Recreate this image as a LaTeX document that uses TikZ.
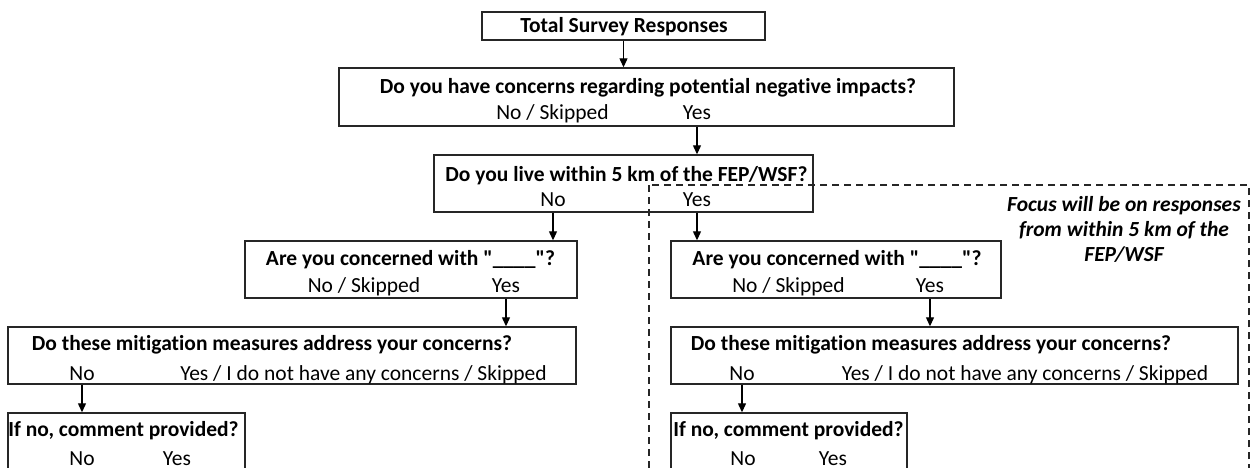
\documentclass[tikz,border=0pt]{standalone}
\usepackage{fontspec}
\setmainfont{Carlito}[Ligatures={NoCommon}]
\usepackage{tikz}
\usetikzlibrary{arrows.meta}

\begin{document}
\begin{tikzpicture}[x=1pt,y=-1pt,
  box/.style={draw=black!85,line width=1.4pt,inner sep=0pt},
  ques/.style={anchor=base,font=\fontsize{21.5}{25}\selectfont\bfseries,inner sep=0pt},
  ans/.style={anchor=base,font=\fontsize{21.5}{25}\selectfont,inner sep=0pt},
  flow/.style={line width=1.2pt,-{Triangle[length=9pt,width=8pt]}}]
\clip (0,0) rectangle (1256,468);
\fill[white] (0,0) rectangle (1256,468);
\node[box,minimum width=283pt,minimum height=28pt] (total) at (623.5,26) {};
\node[ques] (totaltxt) at (624,33) {Total Survey Responses};
\node[box,minimum width=615pt,minimum height=58pt] (concern) at (646.5,97) {};
\node[ques] (concernq) at (648,94) {Do you have concerns regarding potential negative impacts?};
\node[ans] (concernNo) at (552.5,120) {No / Skipped};
\node[ans] (concernYes) at (697,120) {Yes};
\node[box,minimum width=379pt,minimum height=57pt] (within) at (623.5,183.5) {};
\node[ques] (withinq) at (626.5,182) {Do you live within 5 km of the FEP/WSF?};
\node[ans] (withinNo) at (553,207) {No};
\node[ans] (withinYes) at (697,207) {Yes};
\draw[dashed,dash pattern=on 7pt off 5pt,line width=1.2pt,black!85] (649,185) rectangle (1249,490);
\node[font=\fontsize{21.5}{25}\selectfont\bfseries\itshape,align=center,anchor=north,inner sep=0pt] (focus) at (1124,196)
  {Focus will be on responses\\from within 5 km of the\\FEP/WSF};
\node[box,minimum width=332pt,minimum height=57pt] (askL) at (411,269.5) {};
\node[ques] (askLq) at (410.5,265) {Are you concerned with \textquotedbl\_\_\_\_\textquotedbl?};
\node[ans] (askLNo) at (364,292) {No / Skipped};
\node[ans] (askLYes) at (506,292) {Yes};
\node[box,minimum width=568pt,minimum height=57pt] (mitigL) at (292,355.5) {};
\node[ques] (mitigLq) at (272,350) {Do these mitigation measures address your concerns?};
\node[ans] (mitigLNo) at (82,380) {No};
\node[ans] (mitigLYes) at (363.5,380) {Yes / I do not have any concerns / Skipped};
\node[box,minimum width=237pt,minimum height=57pt] (commentL) at (126.5,441.5) {};
\node[ques] (commentLq) at (123.5,436) {If no, comment provided?};
\node[ans] (commentLNo) at (82,465) {No};
\node[ans] (commentLYes) at (177,465) {Yes};
\node[box,minimum width=330pt,minimum height=57pt] (askR) at (836,269.5) {};
\node[ques] (askRq) at (837,265) {Are you concerned with \textquotedbl\_\_\_\_\textquotedbl?};
\node[ans] (askRNo) at (788.5,292) {No / Skipped};
\node[ans] (askRYes) at (930,292) {Yes};
\node[box,minimum width=567pt,minimum height=57pt] (mitigR) at (954.5,355.5) {};
\node[ques] (mitigRq) at (931,350) {Do these mitigation measures address your concerns?};
\node[ans] (mitigRNo) at (742,380) {No};
\node[ans] (mitigRYes) at (1025,380) {Yes / I do not have any concerns / Skipped};
\node[box,minimum width=236pt,minimum height=57pt] (commentR) at (789,441.5) {};
\node[ques] (commentRq) at (788.5,436) {If no, comment provided?};
\node[ans] (commentRNo) at (743,465) {No};
\node[ans] (commentRYes) at (833,465) {Yes};
\draw[flow] (total.south) -- (total.south |- concern.north);
\draw[flow] (concern.south -| concernYes) -- (within.north -| concernYes);
\draw[flow] (within.south -| withinNo) -- (askL.north -| withinNo);
\draw[flow] (within.south -| withinYes) -- (askR.north -| withinYes);
\draw[flow] (askL.south -| askLYes) -- (mitigL.north -| askLYes);
\draw[flow] (askR.south -| askRYes) -- (mitigR.north -| askRYes);
\draw[flow] (mitigL.south -| mitigLNo) -- (commentL.north -| mitigLNo);
\draw[flow] (mitigR.south -| mitigRNo) -- (commentR.north -| mitigRNo);
\end{tikzpicture}
\end{document}
